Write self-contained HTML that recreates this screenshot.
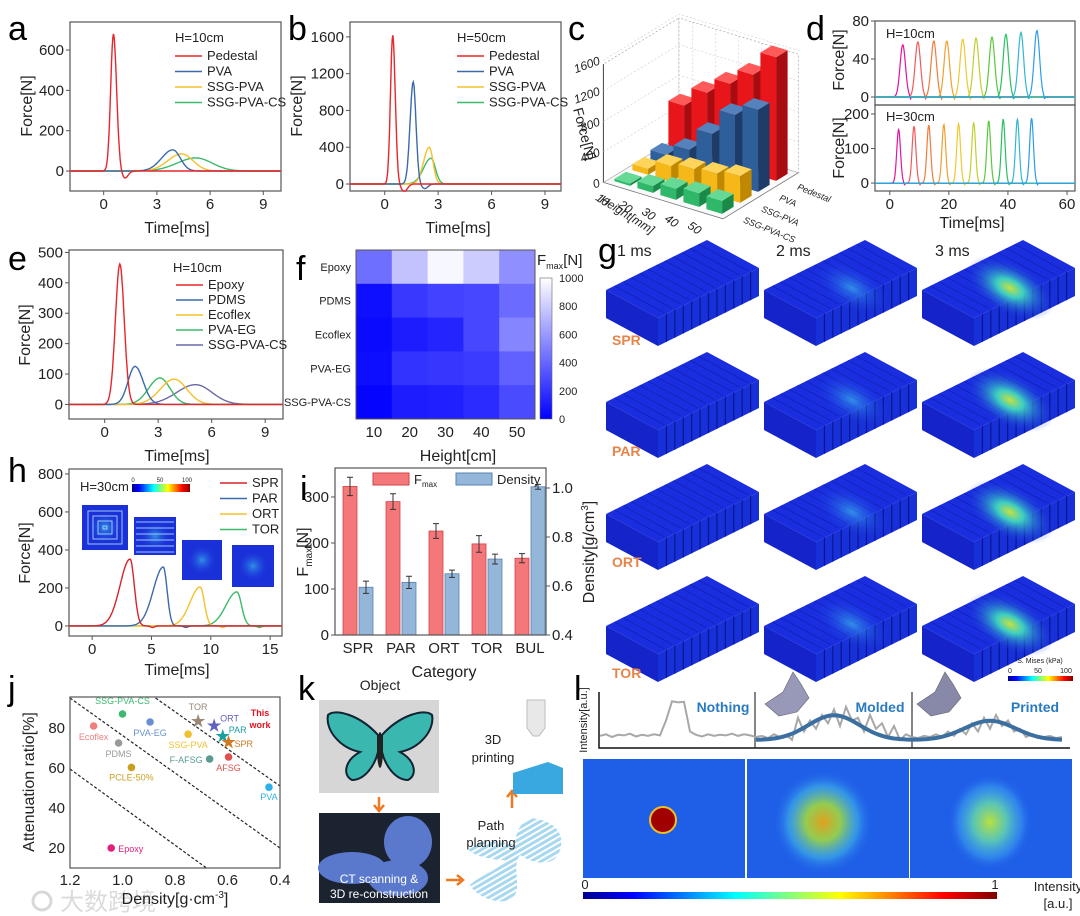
<!DOCTYPE html>
<html><head><meta charset="utf-8">
<style>
body{margin:0;background:#fff}
svg{display:block;font-family:"Liberation Sans","Noto Sans CJK SC",sans-serif}
</style></head>
<body>
<svg id="fig" width="1080" height="916" viewBox="0 0 1080 916">
<defs>
<linearGradient id="fcb" x1="0" y1="1" x2="0" y2="0"><stop offset="0" stop-color="#0000ff"/><stop offset="1" stop-color="#ffffff"/></linearGradient>
<linearGradient id="jet" x1="0" y1="0" x2="1" y2="0"><stop offset="0" stop-color="#00008f"/><stop offset="0.12" stop-color="#0000ff"/><stop offset="0.37" stop-color="#00ffff"/><stop offset="0.62" stop-color="#ffff00"/><stop offset="0.87" stop-color="#ff0000"/><stop offset="1" stop-color="#800000"/></linearGradient>
<radialGradient id="rgMold"><stop offset="0" stop-color="#e0a020"/><stop offset="0.35" stop-color="#a0d840" stop-opacity="0.9"/><stop offset="0.7" stop-color="#40b8e8" stop-opacity="0.6"/><stop offset="1" stop-color="#2060e8" stop-opacity="0"/></radialGradient>
<radialGradient id="rgPrint"><stop offset="0" stop-color="#b8e040"/><stop offset="0.4" stop-color="#60d0b0" stop-opacity="0.9"/><stop offset="0.75" stop-color="#40a8f0" stop-opacity="0.5"/><stop offset="1" stop-color="#2060e8" stop-opacity="0"/></radialGradient>
<radialGradient id="rgStress1"><stop offset="0" stop-color="#40d0f0" stop-opacity="0.6"/><stop offset="1" stop-color="#1a2ee0" stop-opacity="0"/></radialGradient>
<radialGradient id="rgStress2"><stop offset="0" stop-color="#c8e040"/><stop offset="0.3" stop-color="#40e0c0" stop-opacity="0.9"/><stop offset="1" stop-color="#1a2ee0" stop-opacity="0"/></radialGradient>
<pattern id="hatch" width="5" height="5" patternUnits="userSpaceOnUse" patternTransform="rotate(-30)"><rect width="5" height="5" fill="#ffffff"/><rect width="5" height="3" fill="#a8d8f0"/></pattern>
</defs>
</svg>
<script>
// ---------- DATA ----------
const aSeries = ['Pedestal','PVA','SSG-PVA','SSG-PVA-CS'];
const aPeakTimes = [0.55, 3.9, 4.4, 5.2];
const aPeakHeights = [680, 105, 85, 65];
const aWidthL = [0.22, 0.9, 1.1, 1.5];
const aWidthR = [0.25, 0.6, 0.9, 1.3];
const aDipTimes = [1.2, 0, 0, 0];
const aDipDepths = [-35, 0, 0, 0];
const aXTicks = [0, 3, 6, 9];
const aYTicks = [0, 200, 400, 600];
const bPeakTimes = [0.45, 1.6, 2.5, 2.6];
const bPeakHeights = [1620, 1110, 400, 280];
const bWidthL = [0.18, 0.25, 0.45, 0.6];
const bWidthR = [0.2, 0.22, 0.3, 0.35];
const bDipTimes = [1.1, 2.25, 0, 0];
const bDipDepths = [-80, -50, 0, 0];
const bYTicks = [0, 400, 800, 1200, 1600];
const cHeights = [10, 20, 30, 40, 50];
const cMaterials = ['Pedestal','PVA','SSG-PVA','SSG-PVA-CS'];
const cPedestal = [620, 880, 1090, 1300, 1620];
const cPVA = [120, 275, 575, 915, 1075];
const cSSGPVA = [80, 210, 260, 290, 350];
const cSSGPVACS = [30, 90, 145, 180, 170];
const cZTicks = [0, 400, 800, 1200, 1600];
const dTopTimes = [4.4, 9.5, 14.9, 19.3, 24.7, 29.2, 34.6, 39.3, 44.4, 49.8];
const dTopHeights = [55, 58, 59, 59, 61, 62, 63, 66, 68, 70];
const dBotTimes = [3, 8.2, 13.2, 18.3, 23.3, 28.4, 33.5, 38.4, 43.2, 48];
const dBotHeights = [155, 165, 168, 170, 172, 175, 180, 185, 185, 188];
const dXTicks = [0, 20, 40, 60];
const eSeries = ['Epoxy','PDMS','Ecoflex','PVA-EG','SSG-PVA-CS'];
const ePeakTimes = [0.85, 1.7, 3.9, 3.1, 5.1];
const ePeakHeights = [462, 125, 83, 87, 65];
const eWidthL = [0.35, 0.55, 1.1, 0.9, 1.5];
const eWidthR = [0.35, 0.65, 1.0, 0.8, 1.3];
const eYTicks = [0, 100, 200, 300, 400, 500];
const fRows = ['Epoxy','PDMS','Ecoflex','PVA-EG','SSG-PVA-CS'];
const fCols = [10, 20, 30, 40, 50];
const fEpoxy = [430, 760, 970, 800, 560];
const fPDMS = [60, 220, 260, 280, 420];
const fEcoflex = [40, 110, 140, 280, 520];
const fPVAEG = [50, 200, 210, 230, 380];
const fSSGPVACS = [20, 110, 120, 170, 290];
const fBarTicks = [0, 200, 400, 600, 800, 1000];
const hSeries = ['SPR','PAR','ORT','TOR'];
const hPeakTimes = [3.2, 6.0, 9.1, 12.2];
const hPeakHeights = [352, 310, 205, 179];
const hWidthL = [1.2, 1.2, 1.2, 1.3];
const hWidthR = [0.5, 0.45, 0.5, 0.55];
const hXTicks = [0, 5, 10, 15];
const hYTicks = [0, 200, 400, 600, 800];
const iCategories = ['SPR','PAR','ORT','TOR','BUL'];
const iFmax = [323, 290, 226, 198, 167];
const iFmaxErr = [20, 17, 16, 18, 10];
const iDensity = [0.595, 0.615, 0.65, 0.71, 1.005];
const iDensityErr = [0.025, 0.025, 0.015, 0.02, 0.01];
const iFTicks = [0, 100, 200, 300];
const iDTicks = [0.4, 0.6, 0.8, 1.0];
const jNames = ['SSG-PVA-CS','Ecoflex','PDMS','PCLE-50%','PVA-EG','SSG-PVA','TOR','ORT','PAR','SPR','F-AFSG','AFSG','PVA','Epoxy'];
const jDensity = [1.0, 1.11, 1.015, 0.966, 0.895, 0.75, 0.712, 0.651, 0.618, 0.596, 0.668, 0.596, 0.442, 1.043];
const jAtten = [87, 81, 72.5, 60.3, 83, 76.9, 83.6, 81.3, 76, 73, 64.5, 65.5, 50.4, 20];
const jXTicks = [1.2, 1.0, 0.8, 0.6, 0.4];
const jYTicks = [20, 40, 60, 80];
const jGuideX1 = [1.2, 1.2, 0.874];
const jGuideY1 = [59.5, 95, 95];
const jGuideX2 = [0.68, 0.4, 0.4];
const jGuideY2 = [10, 20, 51];
const lTrace = [0.22,0.25,0.2,0.24,0.23,0.26,0.21,0.24,0.22,0.25,0.23,0.5,0.85,0.83,0.84,0.3,0.24,0.21,0.25,0.22,0.24,0.23,0.26,0.22,0.25,0.23,
0.2,0.22,0.18,0.25,0.2,0.24,0.15,0.55,0.3,0.5,0.35,0.6,0.45,0.7,0.4,0.75,0.5,0.55,0.3,0.6,0.35,0.45,0.2,0.4,0.15,0.25,
0.2,0.18,0.22,0.2,0.25,0.2,0.3,0.22,0.35,0.25,0.45,0.3,0.55,0.35,0.6,0.4,0.5,0.3,0.35,0.2,0.25,0.18,0.2,0.22,0.18,0.2];
const lFitCenters = [39, 65];
const lFitHeights = [0.45, 0.35];
const lFitWidths = [6, 6];
const lFitBase = 0.145;

// ---------- HELPERS ----------
const NS = 'http://www.w3.org/2000/svg';
const svg = document.getElementById('fig');
function mk(tag, attrs, parent) {
  const e = document.createElementNS(NS, tag);
  for (const k in attrs) e.setAttribute(k, attrs[k]);
  (parent || svg).appendChild(e);
  return e;
}
function txt(parent, s, x, y, size, anchor, extra) {
  const t = mk('text', Object.assign({x: x, y: y, 'font-size': size, 'text-anchor': anchor || 'middle', fill: '#222'}, extra || {}), parent);
  t.textContent = s;
  return t;
}
function group(name) {
  const g = mk('g', {});
  
  
  return g;
}
function peakVal(t, c, A, wl, wr) {
  const w = t < c ? wl : wr;
  return A * Math.exp(-Math.pow((t - c) / w, 2));
}
function axesBox(g, box, xd, yd, xt, yt, opts) {
  opts = opts || {};
  const sx = t => box.x0 + (t - xd[0]) / (xd[1] - xd[0]) * (box.x1 - box.x0);
  const sy = v => box.y1 - (v - yd[0]) / (yd[1] - yd[0]) * (box.y1 - box.y0);
  const r = mk('rect', {x: box.x0, y: box.y0, width: box.x1 - box.x0, height: box.y1 - box.y0, fill: 'none', stroke: '#555', 'stroke-width': 1.2}, g);
  
  
  if (xt) xt.forEach(v => {
    const tk = mk('line', {x1: sx(v), x2: sx(v), y1: box.y1, y2: box.y1 + 4, stroke: '#555'}, g);
    
    
    const l = txt(g, String(v), sx(v), box.y1 + 18, opts.fs || 15);
    
    
  });
  if (yt) yt.forEach(v => {
    const tk = mk('line', {x1: box.x0 - 4, x2: box.x0, y1: sy(v), y2: sy(v), stroke: '#555'}, g);
    
    
    const l = txt(g, String(v), box.x0 - 6, sy(v) + 5, opts.fs || 15, 'end');
    
    
  });
  return {sx, sy};
}
function curvePath(ax, xd, c, A, wl, wr, dt, dd, n) {
  let d = '';
  const N = n || 320;
  for (let i = 0; i <= N; i++) {
    const t = xd[0] + (xd[1] - xd[0]) * i / N;
    let v = peakVal(t, c, A, wl, wr);
    if (dd) v += dd * Math.exp(-Math.pow((t - dt) / 0.25, 2));
    d += (i ? 'L' : 'M') + ax.sx(t).toFixed(1) + ' ' + ax.sy(v).toFixed(1);
  }
  return d;
}
function panelLabel(s, x, y) {
  const t = txt(svg, s, x, y, 34, 'start', {fill: '#000'});
  
  
}
function vlabel(g, s, x, y, size, name) {
  const t = txt(g, s, x, y, size || 15, 'middle', {transform: 'rotate(-90 ' + x + ' ' + y + ')'});
  
  
  return t;
}
function legendEntry(g, name, color, x, y) {
  const ln = mk('line', {x1: x, x2: x + 27, y1: y - 4, y2: y - 4, stroke: color, 'stroke-width': 1.6}, g);
  
  
  const t = txt(g, name, x + 32, y, 13, 'start');
  
  
}

// ---------- PANEL A ----------
const cA = ['#e8262b','#3a6aa8','#f5c02a','#3cba6a'];
(function(){
  const g = group('panel-a');
  const xd = [-1.9, 10], yd = [-99, 739];
  const ax = axesBox(g, {x0: 70, x1: 281, y0: 22, y1: 191}, xd, yd, aXTicks, aYTicks);
  for (let i = 3; i >= 0; i--) {
    const p = mk('path', {d: curvePath(ax, xd, aPeakTimes[i], aPeakHeights[i], aWidthL[i], aWidthR[i], aDipTimes[i], aDipDepths[i]), fill: 'none', stroke: cA[i], 'stroke-width': 1.4}, g);
    
    
  }
  const h = txt(g, 'H=10cm', 175, 42, 13, 'start');
  
  
  aSeries.forEach((s, i) => legendEntry(g, s, cA[i], 175, 60 + i * 15.5));
  vlabel(g, 'Force[N]', 32, 106, 16, 'y-axis-title');
  const xt = txt(g, 'Time[ms]', 177, 233, 16);
  
  
})();
panelLabel('a', 8, 40);

// ---------- PANEL B ----------
(function(){
  const g = group('panel-b');
  const xd = [-1.95, 9.9], yd = [-76, 1762];
  const ax = axesBox(g, {x0: 350, x1: 561, y0: 22, y1: 191}, xd, yd, aXTicks, bYTicks);
  for (let i = 3; i >= 0; i--) {
    const p = mk('path', {d: curvePath(ax, xd, bPeakTimes[i], bPeakHeights[i], bWidthL[i], bWidthR[i], bDipTimes[i], bDipDepths[i]), fill: 'none', stroke: cA[i], 'stroke-width': 1.4}, g);
    
    
  }
  const h = txt(g, 'H=50cm', 457, 42, 13, 'start');
  
  
  aSeries.forEach((s, i) => legendEntry(g, s, cA[i], 457, 60 + i * 15.5));
  vlabel(g, 'Force[N]', 302, 106, 16, 'y-axis-title');
  const xt = txt(g, 'Time[ms]', 458, 233, 16);
  
  
})();
panelLabel('b', 288, 40);

// ---------- PANEL C (3D bars) ----------
(function(){
  const g = group('panel-c');
  const P = (h, m, z) => [628 + 23 * h + 18 * (3 - m), 180 + 7 * h - 11 * (3 - m) - z * 0.0763];
  const pts = arr => arr.map(p => p[0].toFixed(1) + ',' + p[1].toFixed(1)).join(' ');
  const H = 1550;
  const floor = mk('polygon', {points: pts([P(-0.6,3.6,0), P(4.6,3.6,0), P(4.6,-0.6,0), P(-0.6,-0.6,0)]), fill: '#fafafa', stroke: '#777', 'stroke-width': 0.8}, g);
  
  
  const lw = mk('polygon', {points: pts([P(-0.6,3.6,0), P(-0.6,-0.6,0), P(-0.6,-0.6,H), P(-0.6,3.6,H)]), fill: '#fff', stroke: '#999', 'stroke-width': 0.6, 'stroke-dasharray': '2 2'}, g);
  
  
  const bw = mk('polygon', {points: pts([P(-0.6,-0.6,0), P(4.6,-0.6,0), P(4.6,-0.6,H), P(-0.6,-0.6,H)]), fill: '#fff', stroke: '#999', 'stroke-width': 0.6, 'stroke-dasharray': '2 2'}, g);
  
  
  const vax = mk('line', {x1: P(-0.6,3.6,0)[0], y1: P(-0.6,3.6,0)[1], x2: P(-0.6,3.6,H)[0], y2: P(-0.6,3.6,H)[1], stroke: '#444', 'stroke-width': 1}, g);
  
  
  cZTicks.forEach(z => {
    const a = P(-0.6,3.6,z), b = P(-0.6,-0.6,z), c = P(4.6,-0.6,z);
    const gl = mk('polyline', {points: pts([a, b, c]), fill: 'none', stroke: '#ccc', 'stroke-width': 0.6, 'stroke-dasharray': '2 2'}, g);
    
    
    const l = txt(g, String(z), a[0] - 4, a[1] + 4, 12, 'end', {'font-style': 'italic', transform: 'rotate(-20 ' + (a[0] - 4) + ' ' + a[1] + ')'});
    
    
  });
  for (let hgt = 0; hgt <= 4; hgt++) {
    const gl = mk('polyline', {points: pts([P(hgt,-0.6,0), P(hgt,-0.6,H)]), fill: 'none', stroke: '#ccc', 'stroke-width': 0.6, 'stroke-dasharray': '2 2'}, g);
    
    
  }
  const series = [cPedestal, cPVA, cSSGPVA, cSSGPVACS];
  const cols = [['#e8151b','#a80c10','#ff5a5a'],['#2f5f9a','#1d3d68','#5482bd'],['#f5b818','#c08800','#ffd45a'],['#2fb86a','#1a8a48','#66d996']];
  for (let m = 0; m < 4; m++) {
    for (let hgt = 0; hgt < 5; hgt++) {
      const z = series[m][hgt];
      const x0 = hgt - 0.34, x1 = hgt + 0.34, m0 = m - 0.32, m1 = m + 0.32;
      const bar = mk('g', {}, g);
      
      
      const f1 = mk('polygon', {points: pts([P(x0,m1,0), P(x1,m1,0), P(x1,m1,z), P(x0,m1,z)]), fill: cols[m][0]}, bar);
      
      
      const f2 = mk('polygon', {points: pts([P(x1,m1,0), P(x1,m0,0), P(x1,m0,z), P(x1,m1,z)]), fill: cols[m][1]}, bar);
      
      
      const f3 = mk('polygon', {points: pts([P(x0,m1,z), P(x1,m1,z), P(x1,m0,z), P(x0,m0,z)]), fill: cols[m][2]}, bar);
      
      
    }
  }
  cHeights.forEach((h, i) => {
    const p = P(i, 4.2, 0);
    const l = txt(g, String(h), p[0] - 6, p[1] + 10, 12, 'middle', {'font-style': 'italic', transform: 'rotate(35 ' + (p[0] - 6) + ' ' + (p[1] + 10) + ')'});
    
    
  });
  cMaterials.forEach((s, m) => {
    const p = P(4.9, m, 0);
    const l = txt(g, s, p[0] + 2, p[1] + 8, 9, 'start', {'font-style': 'italic', transform: 'rotate(22 ' + (p[0] + 2) + ' ' + (p[1] + 8) + ')'});
    
    
  });
  const yl = txt(g, 'Force[N]', 580, 135, 14, 'middle', {transform: 'rotate(75 580 135)'});
  
  
  const xl = txt(g, 'Height[mm]', 625, 218, 12, 'middle', {'font-style': 'italic', transform: 'rotate(32 625 218)'});
  
  
})();
panelLabel('c', 568, 40);

// ---------- PANEL D ----------
const dCols = ['#e6139b','#f05a5a','#f07b3a','#f0a030','#f0c830','#c0d030','#5ac83a','#28c060','#30b8d0','#2b9de8'];
(function(){
  const g = group('panel-d');
  const xd = [-5, 62.7];
  const axT = axesBox(g, {x0: 875, x1: 1075, y0: 21, y1: 105}, xd, [-8.4, 80], null, [0, 40, 80]);
  const axB = axesBox(g, {x0: 875, x1: 1075, y0: 105, y1: 191}, xd, [-23, 226], dXTicks, [0, 100, 200]);
  for (let i = 0; i < dTopTimes.length; i++) {
    const p = mk('path', {d: curvePath(axT, xd, dTopTimes[i], dTopHeights[i], 1.3, 1.3, dTopTimes[i] + 2.6, -3, 400), fill: 'none', stroke: dCols[i], 'stroke-width': 1.2}, g);
    
    
    const q = mk('path', {d: curvePath(axB, xd, dBotTimes[i], dBotHeights[i], 0.9, 0.9, dBotTimes[i] + 2, -6, 400), fill: 'none', stroke: dCols[i], 'stroke-width': 1.2}, g);
    
    
  }
  const t1 = txt(g, 'H=10cm', 886, 38, 13, 'start');
  
  
  const t2 = txt(g, 'H=30cm', 886, 121, 13, 'start');
  
  
  vlabel(g, 'Force[N]', 844, 60, 16, 'top-y-axis-title');
  vlabel(g, 'Force[N]', 844, 148, 16, 'bottom-y-axis-title');
  const xt = txt(g, 'Time[ms]', 972, 228, 16);
  
  
})();
panelLabel('d', 806, 40);

// ---------- PANEL E ----------
const cE = ['#e8262b','#3a6aa8','#f5c02a','#3cba6a','#6a6aa8'];
(function(){
  const g = group('panel-e');
  const xd = [-2, 10], yd = [-48, 508];
  const ax = axesBox(g, {x0: 69, x1: 283, y0: 250, y1: 419}, xd, yd, aXTicks, eYTicks);
  for (let i = 4; i >= 0; i--) {
    const p = mk('path', {d: curvePath(ax, xd, ePeakTimes[i], ePeakHeights[i], eWidthL[i], eWidthR[i], 0, 0), fill: 'none', stroke: cE[i], 'stroke-width': 1.4}, g);
    
    
  }
  const h = txt(g, 'H=10cm', 173, 272, 13, 'start');
  
  
  eSeries.forEach((s, i) => legendEntry(g, s, cE[i], 176, 289 + i * 15));
  vlabel(g, 'Force[N]', 30, 335, 16, 'y-axis-title');
  const xt = txt(g, 'Time[ms]', 177, 461, 16);
  
  
})();
panelLabel('e', 8, 270);

// ---------- PANEL F ----------
(function(){
  const g = group('panel-f');
  const x0 = 356, x1 = 535, y0 = 250, y1 = 419;
  const cw = (x1 - x0) / fCols.length, ch = (y1 - y0) / fRows.length;
  const rows = [fEpoxy, fPDMS, fEcoflex, fPVAEG, fSSGPVACS];
  const col = v => { const c = Math.round(255 * Math.max(0, Math.min(1, v / 1000))); return 'rgb(' + c + ',' + c + ',255)'; };
  rows.forEach((row, r) => {
    row.forEach((v, c) => {
      const cell = mk('rect', {x: x0 + c * cw, y: y0 + r * ch, width: cw + 0.5, height: ch + 0.5, fill: col(v)}, g);
      
      
    });
    const l = txt(g, fRows[r], x0 - 5, y0 + (r + 0.5) * ch + 4, 11, 'end');
    
    
  });
  fCols.forEach((v, c) => {
    const l = txt(g, String(v), x0 + (c + 0.5) * cw, 437, 15);
    
    
  });
  const fr = mk('rect', {x: x0, y: y0, width: x1 - x0, height: y1 - y0, fill: 'none', stroke: '#555'}, g);
  
  
  const cb = mk('rect', {x: 540, y: 278, width: 12, height: 141, fill: 'url(#fcb)', stroke: '#666', 'stroke-width': 0.6}, g);
  
  
  fBarTicks.forEach(v => {
    const y = 419 - v / 1000 * 141;
    const l = txt(g, String(v), 559, y + 4, 11, 'start');
    
    
  });
  const t = mk('text', {x: 537, y: 265, 'font-size': 15, fill: '#222'}, g);
  t.innerHTML = 'F<tspan font-size="9" dy="4">max</tspan><tspan dy="-4">[N]</tspan>';
  
  
  const xt = txt(g, 'Height[cm]', 458, 461, 16);
  
  
})();
panelLabel('f', 296, 280);

// ---------- PANEL G (simulation renders) ----------
(function(){
  const g = group('panel-g');
  const times = ['1 ms', '2 ms', '3 ms'];
  const names = ['SPR', 'PAR', 'ORT', 'TOR'];
  times.forEach((s, c) => {
    const t = txt(g, s, 617 + c * 159, 256, 16, 'start');
    
    
  });
  for (let r = 0; r < 4; r++) {
    for (let c = 0; c < 3; c++) {
      const ox = 606 + c * 158, oy = 240 + r * 112;
      const b = mk('g', {}, g);
      
      
      const A = [ox + 101, oy], B = [ox + 153, oy + 28], C = [ox + 52, oy + 78], D = [ox, oy + 50], dep = 28;
      const P = a => a.map(p => p[0] + ',' + p[1]).join(' ');
      const top = mk('polygon', {points: P([A, B, C, D]), fill: '#1a2ee0'}, b);
      
      
      const lf = mk('polygon', {points: P([D, C, [C[0], C[1] + dep], [D[0], D[1] + dep]]), fill: '#1424c8'}, b);
      
      
      const rf = mk('polygon', {points: P([C, B, [B[0], B[1] + dep], [C[0], C[1] + dep]]), fill: '#1830d8'}, b);
      
      
      for (let k = 1; k < 12; k++) {
        const f = k / 12;
        const x = C[0] + (B[0] - C[0]) * f, y = C[1] + (B[1] - C[1]) * f;
        const sl = mk('line', {x1: x, y1: y, x2: x, y2: y + dep, stroke: '#0a1490', 'stroke-width': 1.2}, b);
        
        
        const x2 = D[0] + (A[0] - D[0]) * f, y2 = D[1] + (A[1] - D[1]) * f;
        const tl = mk('line', {x1: x2, y1: y2, x2: x2 + (B[0] - A[0]) * 0.95, y2: y2 + (B[1] - A[1]) * 0.95, stroke: '#1020b0', 'stroke-width': 0.7}, b);
        
        
      }
      if (c > 0) {
        const e = mk('ellipse', {cx: ox + 88, cy: oy + 48, rx: c === 1 ? 42 : 48, ry: c === 1 ? 22 : 26, fill: c === 1 ? 'url(#rgStress1)' : 'url(#rgStress2)', transform: 'rotate(28 ' + (ox + 88) + ' ' + (oy + 48) + ')'}, b);
        
        
      }
    }
    const l = txt(g, names[r], 612, 345 + r * 111, 14, 'start', {fill: '#e8844a', 'font-weight': 'bold'});
    
    
  }
  const cb = mk('rect', {x: 1008, y: 676, width: 65, height: 5, fill: 'url(#jet)'}, g);
  
  
  const ct = txt(g, 'S. Mises (kPa)', 1040, 663, 7);
  
  
  ['0', '50', '100'].forEach((s, i) => {
    const l = txt(g, s, 1010 + i * 28, 673, 7);
    
    
  });
})();
panelLabel('g', 598, 262);

// ---------- PANEL H ----------
const cH = ['#d8232a','#3a6aa8','#f5c02a','#3cba6a'];
(function(){
  const g = group('panel-h');
  const xd = [-1.95, 16], yd = [-53, 826];
  const ax = axesBox(g, {x0: 69, x1: 282, y0: 469, y1: 636}, xd, yd, hXTicks, hYTicks);
  const ins = [[82,505,46,45],[134,517,42,38],[182,540,40,40],[232,545,42,42]];
  ins.forEach((r, i) => {
    const b = mk('rect', {x: r[0], y: r[1], width: r[2], height: r[3], fill: '#1a30d8'}, g);
    
    
    const e = mk('ellipse', {cx: r[0] + r[2] / 2, cy: r[1] + r[3] / 2, rx: r[2] / 2.6, ry: r[3] / 2.6, fill: 'url(#rgStress1)'}, g);
    
    
  });
  for (let k = 0; k < 4; k++) {
    const s = mk('rect', {x: 88 + k * 5, y: 511 + k * 5, width: 34 - k * 10, height: 33 - k * 10, fill: 'none', stroke: '#9cc8f0', 'stroke-width': 1}, g);
    
    
  }
  for (let k = 0; k < 6; k++) {
    const s = mk('line', {x1: 136, x2: 174, y1: 522 + k * 6, y2: 522 + k * 6, stroke: '#9cc8f0', 'stroke-width': 1}, g);
    
    
  }
  const icb = mk('rect', {x: 132, y: 484, width: 58, height: 8, fill: 'url(#jet)'}, g);
  
  
  ['0','50','100'].forEach((s, i) => {
    const l = txt(g, s, 133 + i * 27, 482, 6);
    
    
  });
  for (let i = 3; i >= 0; i--) {
    const p = mk('path', {d: curvePath(ax, xd, hPeakTimes[i], hPeakHeights[i], hWidthL[i], hWidthR[i], hPeakTimes[i] + 1.9, -8), fill: 'none', stroke: cH[i], 'stroke-width': 1.4}, g);
    
    
  }
  const h = txt(g, 'H=30cm', 80, 491, 13, 'start');
  
  
  hSeries.forEach((s, i) => legendEntry(g, s, cH[i], 220, 487 + i * 15.5));
  vlabel(g, 'Force[N]', 30, 553, 16, 'y-axis-title');
  const xt = txt(g, 'Time[ms]', 177, 675, 16);
  
  
})();
panelLabel('h', 8, 482);

// ---------- PANEL I ----------
(function(){
  const g = group('panel-i');
  const x0 = 335, x1 = 546, y0 = 468, y1 = 635;
  const fMax = 363, dMin = 0.4, dMax = 0.4 + (y1 - y0) / 49 * 0.2;
  const sy = v => y1 - v / fMax * (y1 - y0);
  const sd = v => y1 - (v - dMin) / (dMax - dMin) * (y1 - y0);
  const cx = i => 358 + i * 43;
  iCategories.forEach((c, i) => {
    const r = mk('rect', {x: cx(i) - 15, y: sy(iFmax[i]), width: 14, height: y1 - sy(iFmax[i]), fill: '#f4777a', stroke: '#d04448', 'stroke-width': 0.8}, g);
    
    
    const b = mk('rect', {x: cx(i) + 1, y: sd(iDensity[i]), width: 14, height: y1 - sd(iDensity[i]), fill: '#94b6d8', stroke: '#5a82b0', 'stroke-width': 0.8}, g);
    
    
    const e1 = mk('path', {d: 'M' + (cx(i) - 8) + ' ' + sy(iFmax[i] - iFmaxErr[i]) + 'V' + sy(iFmax[i] + iFmaxErr[i]) + 'M' + (cx(i) - 11) + ' ' + sy(iFmax[i] + iFmaxErr[i]) + 'h6M' + (cx(i) - 11) + ' ' + sy(iFmax[i] - iFmaxErr[i]) + 'h6', stroke: '#333', fill: 'none'}, g);
    
    
    const e2 = mk('path', {d: 'M' + (cx(i) + 8) + ' ' + sd(iDensity[i] - iDensityErr[i]) + 'V' + sd(iDensity[i] + iDensityErr[i]) + 'M' + (cx(i) + 5) + ' ' + sd(iDensity[i] + iDensityErr[i]) + 'h6M' + (cx(i) + 5) + ' ' + sd(iDensity[i] - iDensityErr[i]) + 'h6', stroke: '#333', fill: 'none'}, g);
    
    
    const l = txt(g, c, cx(i), 653, 15);
    
    
  });
  const fr = mk('rect', {x: x0, y: y0, width: x1 - x0, height: y1 - y0, fill: 'none', stroke: '#555', 'stroke-width': 1.2}, g);
  
  
  iFTicks.forEach(v => {
    const l = txt(g, String(v), x0 - 6, sy(v) + 5, 15, 'end');
    
    
    const t = mk('line', {x1: x0 - 4, x2: x0, y1: sy(v), y2: sy(v), stroke: '#555'}, g);
    
    
  });
  iDTicks.forEach(v => {
    const l = txt(g, v.toFixed(1), x1 + 6, sd(v) + 5, 15, 'start');
    
    
    const t = mk('line', {x1: x1, x2: x1 + 4, y1: sd(v), y2: sd(v), stroke: '#555'}, g);
    
    
  });
  const lr = mk('rect', {x: 373, y: 473, width: 36, height: 12, fill: '#f4777a', stroke: '#d04448'}, g);
  
  
  const lt = mk('text', {x: 414, y: 484, 'font-size': 13, fill: '#222'}, g);
  lt.innerHTML = 'F<tspan font-size="8" dy="3">max</tspan>';
  
  
  const lb = mk('rect', {x: 456, y: 473, width: 36, height: 12, fill: '#94b6d8', stroke: '#5a82b0'}, g);
  
  
  const ld = txt(g, 'Density', 497, 484, 13, 'start');
  
  
  const yl = mk('text', {x: 0, y: 0, 'font-size': 16, fill: '#222', 'text-anchor': 'middle', transform: 'translate(308 552) rotate(-90)'}, g);
  yl.innerHTML = 'F<tspan font-size="10" dy="4">max</tspan><tspan dy="-4">[N]</tspan>';
  
  
  const dl = mk('text', {x: 0, y: 0, 'font-size': 16, fill: '#222', 'text-anchor': 'middle', transform: 'translate(594 552) rotate(-90)'}, g);
  dl.innerHTML = 'Density[g/cm<tspan font-size="10" dy="-6">3</tspan><tspan dy="6">]</tspan>';
  
  
  const xt = txt(g, 'Category', 444, 677, 16);
  
  
})();
panelLabel('i', 300, 500);

// ---------- PANEL J ----------
(function(){
  const g = group('panel-j');
  const x0 = 70, x1 = 280, y0 = 697, y1 = 868;
  const sx = d => x0 + (1.2 - d) / 0.8 * (x1 - x0);
  const sy = v => 728 - (v - 80) * 2.0;
  const cl = mk('clipPath', {id: 'jclip'}, g);
  mk('rect', {x: x0, y: y0, width: x1 - x0, height: y1 - y0}, cl);
  jGuideX1.forEach((v, i) => {
    const l = mk('line', {x1: sx(jGuideX1[i]), y1: sy(jGuideY1[i]), x2: sx(jGuideX2[i]), y2: sy(jGuideY2[i]), stroke: '#222', 'stroke-width': 1.2, 'stroke-dasharray': '3 2', 'clip-path': 'url(#jclip)'}, g);
    
    
  });
  const fr = mk('rect', {x: x0, y: y0, width: x1 - x0, height: y1 - y0, fill: 'none', stroke: '#555', 'stroke-width': 1.2}, g);
  
  
  jXTicks.forEach(v => {
    const l = txt(g, v.toFixed(1), sx(v), 885, 15);
    
    
  });
  jYTicks.forEach(v => {
    const l = txt(g, String(v), x0 - 5, sy(v) + 5, 15, 'end');
    
    
  });
  const cols = ['#3cb870','#f08080','#999999','#c8a020','#6890d0','#f0c030','#998877','#6060c0','#1aa0a0','#d07820','#5a9a90','#e05050','#30b0e8','#e0207a'];
  const lab = [[0,-10,'middle'],[0,14,'middle'],[0,14,'middle'],[0,13,'middle'],[0,14,'middle'],[0,14,'middle'],[0,-11,'middle'],[6,-4,'start'],[6,-3,'start'],[6,5,'start'],[-7,4,'end'],[0,14,'middle'],[0,13,'middle'],[7,4,'start']];
  jNames.forEach((n, i) => {
    const x = sx(jDensity[i]), y = sy(jAtten[i]);
    const star = i >= 6 && i <= 9;
    const m = star ? txt(g, '★', x, y + 5, 15, 'middle', {fill: cols[i]}) : mk('circle', {cx: x, cy: y, r: 3.8, fill: cols[i]}, g);
    
    
    const l = txt(g, n, x + lab[i][0], y + lab[i][1], 9, lab[i][2], {fill: cols[i]});
    
    
  });
  const tw = txt(g, 'This', 260, 716, 9, 'middle', {fill: '#e01020', 'font-weight': 'bold'});
  
  
  const tw2 = txt(g, 'work', 260, 728, 9, 'middle', {fill: '#e01020', 'font-weight': 'bold'});
  
  
  vlabel(g, 'Attenuation ratio[%]', 34, 782, 16, 'y-axis-title');
  const wm = txt(g, '大数跨境', 60, 910, 24, 'start', {fill: '#d8d8d8', opacity: 0.9});
  
  
  const wc = mk('circle', {cx: 42, cy: 901, r: 9, fill: 'none', stroke: '#d8d8d8', 'stroke-width': 3}, g);
  
  
  const xl = mk('text', {x: 175, y: 904, 'font-size': 16, fill: '#222', 'text-anchor': 'middle'}, g);
  xl.innerHTML = 'Density[g·cm<tspan font-size="10" dy="-6">-3</tspan><tspan dy="6">]</tspan>';
  
  
})();
panelLabel('j', 8, 700);

// ---------- PANEL K (workflow) ----------
(function(){
  const g = group('panel-k');
  const ob = txt(g, 'Object', 380, 690, 14);
  
  
  const ph = mk('rect', {x: 319, y: 700, width: 120, height: 93, fill: '#d6d6d6'}, g);
  
  
  const w1 = mk('path', {d: 'M378 735 C360 715 335 708 328 715 C325 730 340 748 360 752 C345 760 342 775 352 780 C365 780 375 765 378 752 Z', fill: '#3ab8b0', stroke: '#123', 'stroke-width': 2}, g);
  
  
  const w2 = mk('path', {d: 'M382 735 C400 715 425 708 432 715 C435 730 420 748 400 752 C415 760 418 775 408 780 C395 780 385 765 382 752 Z', fill: '#3ab8b0', stroke: '#123', 'stroke-width': 2}, g);
  
  
  const bd = mk('ellipse', {cx: 380, cy: 750, rx: 3, ry: 18, fill: '#222'}, g);
  
  
  const ct = mk('rect', {x: 319, y: 813, width: 121, height: 90, fill: '#1c2330'}, g);
  
  
  const s1 = mk('ellipse', {cx: 352, cy: 868, rx: 34, ry: 16, fill: '#5a78cc'}, g);
  
  
  const s2 = mk('ellipse', {cx: 408, cy: 842, rx: 24, ry: 26, fill: '#5a78cc'}, g);
  
  
  const s3 = mk('ellipse', {cx: 398, cy: 878, rx: 30, ry: 18, fill: '#5a78cc'}, g);
  
  
  const c1 = txt(g, 'CT scanning &', 379, 883, 12, 'middle', {fill: '#fff'});
  
  
  const c2 = txt(g, '3D re-construction', 379, 898, 12, 'middle', {fill: '#fff'});
  
  
  const arrows = [['M379 797 V810','M374 805 L379 811 L384 805'],['M446 880 H462','M457 875 L463 880 L457 885'],['M512 808 V792','M507 797 L512 791 L517 797']];
  arrows.forEach(a => {
    const p = mk('path', {d: a[0] + a[1], stroke: '#f07820', 'stroke-width': 2.5, fill: 'none'}, g);
    
    
  });
  const p1 = txt(g, '3D', 493, 744, 13);
  
  
  const p2 = txt(g, 'printing', 493, 762, 13);
  
  
  const nz = mk('path', {d: 'M527 700 h18 v28 l-6 8 h-6 l-6 -8 Z', fill: '#e8e8e8', stroke: '#bbb'}, g);
  
  
  const pb = mk('polygon', {points: '513,773 548,762 563,768 563,794 513,794', fill: '#3aa8e0'}, g);
  
  
  const hb = mk('path', {d: 'M530 818 C555 820 568 835 558 855 C550 868 530 862 520 855 C510 870 525 890 510 900 C495 905 475 895 470 885 C480 875 500 870 505 860 C490 860 470 855 468 848 C480 838 505 842 515 845 C515 835 520 822 530 818 Z', fill: 'url(#hatch)'}, g);
  
  
  const q1 = txt(g, 'Path', 491, 830, 13);
  
  
  const q2 = txt(g, 'planning', 491, 847, 13);
  
  
})();
panelLabel('k', 298, 700);

// ---------- PANEL L ----------
(function(){
  const g = group('panel-l');
  const ay1 = 748;
  const sxI = i => 600 + 6 * i;
  const syV = v => ay1 - v * 55;
  const axl = mk('path', {d: 'M599 692 V748 H1070', stroke: '#111', 'stroke-width': 1.5, fill: 'none'}, g);
  
  
  [755, 912].forEach(x => {
    const d = mk('line', {x1: x, x2: x, y1: 692, y2: 748, stroke: '#333', 'stroke-width': 1.2}, g);
    
    
  });
  let d = '';
  lTrace.forEach((v, i) => { d += (i ? 'L' : 'M') + sxI(i) + ' ' + syV(v).toFixed(1); });
  const tr = mk('path', {d: d, stroke: '#a8a8a8', 'stroke-width': 2, fill: 'none'}, g);
  
  
  let f = '';
  for (let i = 26; i <= 77; i += 0.5) {
    let v = lFitBase;
    lFitCenters.forEach((c, k) => { v += lFitHeights[k] * Math.exp(-Math.pow((i - c) / lFitWidths[k], 2)); });
    f += (i === 26 ? 'M' : 'L') + sxI(i).toFixed(1) + ' ' + syV(v).toFixed(1);
  }
  const ft = mk('path', {d: f, stroke: '#3a6fa0', 'stroke-width': 4, fill: 'none'}, g);
  
  
  [['Nothing', 723], ['Molded', 880], ['Printed', 1035]].forEach(a => {
    const t = txt(g, a[0], a[1], 712, 14, 'middle', {fill: '#2a7ac0', 'font-weight': 'bold'});
    
    
  });
  [765, 917].forEach((x, i) => {
    const b = mk('polygon', {points: [[x, 704],[x + 18, 692],[x + 28, 672],[x + 36, 684],[x + 44, 698],[x + 32, 712],[x + 14, 716]].map(p => p.join(',')).join(' '), fill: i ? '#8888a8' : '#9898b8', stroke: '#667', 'stroke-width': 0.6}, g);
    
    
  });
  vlabel(g, 'Intensity[a.u.]', 587, 720, 11, 'intensity-axis-title');
  const imgs = [[583, 'nothing'], [747, 'molded'], [910, 'printed']];
  imgs.forEach(a => {
    const r = mk('rect', {x: a[0], y: 759, width: 162, height: 119, fill: '#1f5fe8'}, g);
    
    
  });
  const bl = mk('circle', {cx: 663, cy: 820, r: 13, fill: '#a00000', stroke: '#f0c020', 'stroke-width': 2}, g);
  
  
  const em = mk('ellipse', {cx: 823, cy: 822, rx: 50, ry: 52, fill: 'url(#rgMold)'}, g);
  
  
  const ep = mk('ellipse', {cx: 990, cy: 822, rx: 42, ry: 48, fill: 'url(#rgPrint)'}, g);
  
  
  const cb = mk('rect', {x: 583, y: 892, width: 414, height: 7, fill: 'url(#jet)'}, g);
  
  
  const z = txt(g, '0', 585, 889, 13);
  
  
  const o = txt(g, '1', 995, 889, 13);
  
  
  const it = txt(g, 'Intensity', 1058, 891, 13);
  
  
  const iu = txt(g, '[a.u.]', 1058, 908, 13);
  
  
})();
panelLabel('l', 574, 700);
</script>
</body></html>
